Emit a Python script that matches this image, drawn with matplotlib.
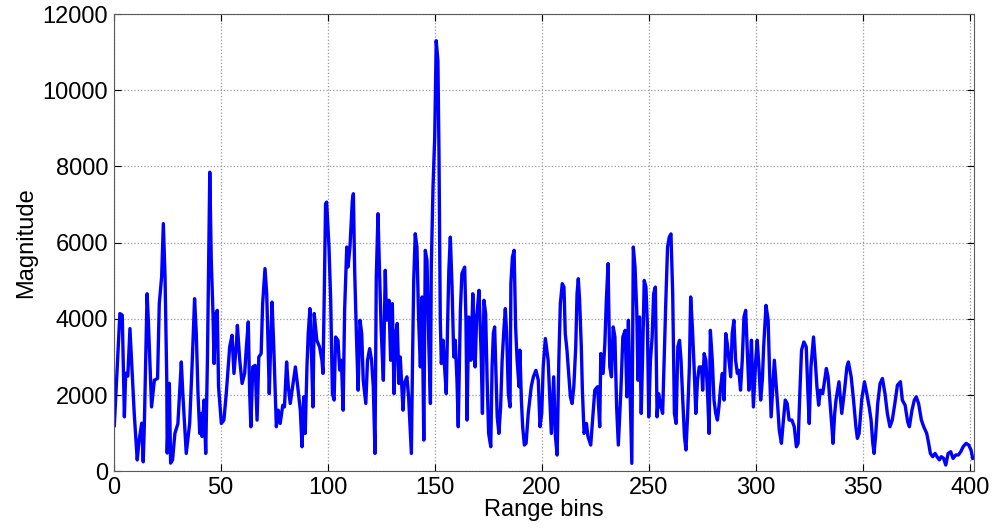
import numpy as np
import matplotlib
matplotlib.use("Agg")
import matplotlib.pyplot as plt

plt.rcParams['font.family'] = ['Liberation Sans', 'DejaVu Sans']

# range bin positions (peaks and dips)
bins = [
    0.3, 2.9, 4.0, 5.0, 5.6, 6.6, 7.6, 9.6, 11.0, 11.9, 13.1, 13.8, 14.3, 15.6, 16.2, 17.7,
    19.0, 20.5, 21.3, 22.4, 23.2, 24.0, 24.8, 25.0, 26.0, 26.6, 27.5, 28.6, 30.0, 31.6,
    32.3, 33.9, 35.5, 36.6, 37.8, 38.6, 39.4, 40.2, 41.0, 41.3, 42.2, 43.0, 43.8, 44.9,
    45.6, 46.4, 46.9, 47.6, 48.4, 49.0, 50.3, 51.5, 52.6, 54.2, 55.3, 56.2, 57.4, 57.8,
    58.9, 60.0, 61.2, 62.0, 62.9, 63.5, 64.1, 65.0, 66.1, 67.0, 67.8, 68.9, 69.6, 70.7,
    71.5, 72.0, 72.7, 73.5, 74.0, 74.8, 76.0, 76.9, 77.8, 79.0, 79.8, 80.8, 81.6, 82.5,
    83.6, 84.9, 86.0, 87.2, 88.0, 88.8, 89.5, 90.3, 90.9, 91.7, 92.5, 93.1, 93.7, 94.9,
    96.2, 97.3, 97.8, 98.4, 99.0, 99.5, 100.6, 101.4, 102.2, 103.0, 103.7, 104.8, 105.6,
    106.4, 107.2, 107.9, 108.9, 109.5, 110.4, 111.5, 112.0, 112.6, 113.4, 114.2, 115.1,
    115.9, 116.6, 117.8, 118.6, 119.6, 120.5, 121.3, 122.1, 122.7, 123.5, 124.2, 125.0,
    126.0, 126.9, 127.5, 128.6, 129.4, 130.2, 131.0, 131.8, 132.5, 133.3, 133.9, 135.2,
    135.8, 137.0, 137.8, 139.1, 139.7, 140.2, 140.9, 141.7, 142.5, 143.3, 144.1, 144.9,
    145.6, 146.4, 147.2, 148.0, 148.4, 149.2, 150.0, 150.7, 151.5, 152.0, 152.6, 153.1,
    153.9, 154.7, 155.4, 156.0, 156.6, 157.3, 158.1, 158.9, 159.6, 160.4, 161.0, 162.0,
    162.7, 164.0, 164.6, 165.1, 165.9, 166.6, 166.9, 167.8, 168.4, 168.9, 169.6, 170.7,
    171.7, 172.3, 173.0, 173.8, 174.5, 175.2, 176.2, 176.8, 177.4, 178.0, 178.6, 179.2,
    180.0, 180.8, 181.5, 182.3, 183.0, 183.6, 184.4, 185.2, 185.6, 186.3, 187.1, 187.8,
    188.5, 189.4, 189.8, 190.5, 191.1, 191.9, 192.7, 193.7, 195.1, 196.1, 197.3, 198.4,
    199.2, 200.0, 200.7, 201.7, 203.0, 203.8, 204.5, 205.6, 206.4, 207.2, 208.0, 208.7,
    209.6, 210.4, 211.0, 211.8, 212.6, 213.4, 214.2, 215.0, 215.9, 216.5, 217.1, 217.7,
    218.5, 219.0, 219.8, 220.9, 221.6, 222.9, 224.0, 224.8, 226.1, 227.1, 227.6, 228.7,
    229.5, 230.2, 231.0, 231.8, 232.6, 233.4, 234.2, 235.0, 235.8, 237.0, 237.9, 239.0,
    239.8, 240.5, 241.3, 242.1, 242.8, 243.6, 244.4, 245.0, 245.7, 246.5, 247.1, 247.9,
    248.7, 249.4, 250.0, 250.8, 251.6, 252.3, 253.1, 253.9, 254.6, 255.7, 256.5, 257.2,
    258.0, 258.8, 259.6, 260.4, 261.2, 262.0, 262.8, 263.6, 264.4, 265.1, 265.9, 266.7,
    267.4, 268.2, 269.0, 269.6, 270.4, 271.2, 272.0, 272.8, 273.6, 274.7, 275.2, 275.9,
    276.7, 277.5, 278.2, 278.8, 279.7, 280.5, 281.3, 282.1, 282.8, 283.6, 284.4, 285.2,
    286.0, 286.7, 287.5, 288.3, 289.0, 289.8, 290.6, 291.4, 292.1, 292.9, 293.7, 294.5,
    295.3, 296.0, 296.8, 297.6, 298.0, 298.9, 300.0, 300.7, 301.5, 302.3, 303.1, 303.7,
    304.8, 305.8, 306.4, 307.2, 308.0, 308.7, 309.5, 310.3, 311.0, 312.0, 312.8, 313.8,
    314.7, 315.6, 316.9, 318.0, 319.0, 319.8, 320.6, 321.4, 322.5, 323.6, 324.4, 325.0,
    325.8, 327.0, 327.8, 328.6, 329.4, 330.2, 331.3, 332.2, 333.0, 333.8, 334.9, 335.7,
    336.1, 336.9, 337.5, 338.9, 340.2, 341.5, 342.6, 343.3, 344.6, 345.7, 346.8, 347.5,
    348.3, 349.5, 350.8, 351.9, 353.0, 353.9, 354.7, 355.3, 356.1, 357.0, 358.1, 359.2,
    360.4, 361.5, 362.7, 363.8, 365.0, 366.2, 367.6, 368.5, 369.8, 371.0, 371.8, 373.0,
    374.1, 375.0, 376.1, 377.4, 378.5, 379.9, 380.8, 381.6, 382.7, 383.8, 384.7, 385.8,
    386.7, 387.8, 388.8, 389.9, 391.1, 392.2, 393.5, 394.7, 395.8, 396.9, 398.3, 399.5,
    400.6, 401.4,
]

magnitude = [
    1200, 4140, 4100, 1430, 2575, 2500, 3745, 1520, 300, 820, 1265, 250, 1160, 4660, 3950, 1690,
    2390, 2440, 4400, 5100, 6500, 5100, 2390, 480, 2310, 215, 300, 995, 1250, 2870,
    2040, 470, 1257, 2740, 4530, 3615, 2040, 995, 1520, 915, 1870, 470, 2915, 7850,
    5535, 4140, 2830, 4110, 4225, 2220, 1257, 1345, 2040, 3265, 3570, 2570, 3395, 3830,
    2915, 2305, 2570, 3265, 3920, 2130, 1170, 2740, 2780, 1345, 3000, 3090, 4400, 5320,
    4660, 3615, 2040, 3615, 4440, 3265, 1170, 1605, 1257, 1735, 1690, 2870, 2220, 1780,
    2220, 2740, 2220, 1605, 645, 1955, 995, 2740, 3615, 4270, 2915, 1690, 4140, 3440,
    3265, 2915, 2570, 4660, 7020, 7065, 5885, 4490, 2040, 1870, 3525, 3440, 2655,
    2915, 1605, 4225, 5885, 5360, 5885, 7110, 7285, 5270, 3615, 2130, 3965,
    3615, 2390, 1780, 2915, 3220, 2915, 2220, 470, 5100, 6760, 5275, 3700,
    2390, 5275, 3965, 4490, 2915, 4400, 2040, 3615, 3880, 2305, 3000, 1605,
    2305, 2480, 1955, 470, 3180, 5010, 6235, 5885, 3965, 2740, 4575, 820,
    5800, 5535, 3440, 1780, 5360, 7455, 8765, 11300, 10775, 8330, 3965, 2830,
    3440, 2655, 2040, 3790, 5275, 6145, 4835, 3000, 3440, 2390, 1170, 4225,
    5190, 5360, 3965, 1345, 4050, 3965, 2915, 4660, 3525, 2740, 4050, 4750,
    3090, 1520, 4490, 4140, 2390, 995, 645, 2740, 3615, 3790, 2570, 1430,
    995, 1690, 2915, 3700, 4270, 3615, 2040, 1690, 4925, 5620, 5800, 3790,
    2915, 2220, 3180, 1870, 1170, 690, 735, 1520, 2220, 2480, 2650, 2390,
    1170, 1520, 2740, 3485, 2915, 1870, 995, 2480, 915, 427, 2915, 4400,
    4925, 4835, 3615, 3180, 2570, 1955, 1780, 2220, 3265, 4660, 5055, 4490,
    3265, 2130, 995, 1257, 915, 690, 1520, 2130, 2220, 1170, 3090, 2570,
    3350, 4490, 5450, 2740, 2480, 3790, 3525, 1690, 690, 2130, 3525, 3700,
    1955, 3965, 2040, 210, 5885, 5360, 4225, 2390, 4050, 1520, 2915, 5010,
    4835, 3790, 1430, 2915, 3525, 4660, 4835, 1430, 2040, 1690, 1520, 2915,
    4490, 5885, 6145, 6230, 4660, 1520, 1257, 3265, 3440, 2915, 1870, 915,
    560, 1520, 2740, 4575, 3790, 2740, 1520, 2390, 2740, 2740, 2130, 3090,
    2915, 2040, 995, 3700, 2915, 1870, 1520, 1345, 1690, 2220, 2570, 1870,
    3615, 3350, 2915, 2480, 3615, 3965, 2915, 2570, 2650, 2130, 2915, 4050,
    4225, 3265, 2130, 2915, 3440, 1690, 2915, 3440, 2740, 1870, 2400, 3265,
    4355, 3965, 2740, 1430, 2220, 2915, 2305, 1690, 1080, 735, 1257, 1870,
    1780, 1345, 1345, 1170, 645, 735, 2040, 3180, 3395, 3265, 2040, 1257,
    2740, 3525, 2915, 2220, 1735, 2130, 2040, 2390, 2700, 2480, 1690, 1080,
    735, 1520, 1870, 2350, 1520, 2130, 2740, 2870, 2480, 1870, 1170, 865,
    995, 1870, 2350, 2040, 1690, 1345, 735, 470, 995, 1780, 2305, 2435,
    2040, 1520, 1170, 1345, 1780, 2260, 2350, 1870, 1735, 1300, 1170, 1605,
    1870, 1955, 1780, 1345, 1170, 995, 735, 470, 385, 470, 385, 300,
    385, 340, 165, 470, 515, 340, 430, 430, 515, 645, 735, 690,
    560, 340,
]

xticks = np.arange(0, 401, 50)
yticks = np.arange(0, 12001, 2000)

fig = plt.figure(figsize=(9.99, 5.29), dpi=100)
ax = fig.add_axes([0.1138, 0.109, 0.8612, 0.8645])

ax.plot(bins, magnitude, color=(0, 0, 1), linewidth=2.4)

ax.set_xlim(0, 402)
ax.set_ylim(0, 12000)
ax.set_xticks(xticks)
ax.set_yticks(yticks)
ax.grid(True, linestyle=':', color='0.6', linewidth=0.9)
ax.tick_params(direction='in', top=True, right=True, labelsize=17, length=5, width=0.8, pad=4)
for s in ax.spines.values():
    s.set_linewidth(0.8)
    s.set_color('0.35')

ax.set_xlabel('Range bins', fontsize=17, labelpad=0)
ax.set_ylabel('Magnitude', fontsize=17, labelpad=4)

fig.savefig('out.png', dpi=100)
